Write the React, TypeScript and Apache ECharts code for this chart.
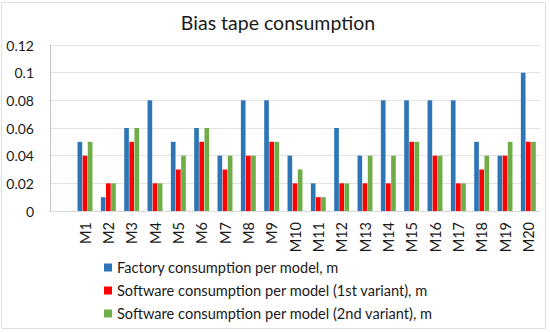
import React, { useEffect, useRef } from "react";
import * as echarts from "echarts";

const models = ["M1","M2","M3","M4","M5","M6","M7","M8","M9","M10","M11","M12","M13","M14","M15","M16","M17","M18","M19","M20"];
const factory = [0.05,0.01,0.06,0.08,0.05,0.06,0.04,0.08,0.08,0.04,0.02,0.06,0.04,0.08,0.08,0.08,0.08,0.05,0.04,0.10];
const software1 = [0.04,0.02,0.05,0.02,0.03,0.05,0.03,0.04,0.05,0.02,0.01,0.02,0.02,0.02,0.05,0.04,0.02,0.03,0.04,0.05];
const software2 = [0.05,0.02,0.06,0.02,0.04,0.06,0.04,0.04,0.05,0.03,0.01,0.02,0.04,0.04,0.05,0.04,0.02,0.04,0.05,0.05];
const yTicks = [0, 0.02, 0.04, 0.06, 0.08, 0.1, 0.12];
const seriesNames = [
  "Factory consumption per model, m",
  "Software consumption per model (1st variant), m",
  "Software consumption per model (2nd variant), m",
];
const colors = ["#2E75B6", "#FF0000", "#70AD47"];

const FONT = "Lato";

export default function App() {
  const ref = useRef<HTMLDivElement>(null);
  useEffect(() => {
    if (!ref.current) return;
    const chart = echarts.init(ref.current, null, { renderer: "svg" });
    // leading empty category slot, as in the reference
    const cats = ["", ...models];
    const pad = (arr: number[]) => [null, ...arr];
    const allData = [factory, software1, software2];
    chart.setOption({
      animation: false,
      backgroundColor: "#ffffff",
      textStyle: { fontFamily: FONT },
      title: {
        text: "Bias tape consumption",
        left: 273,
        textAlign: "center",
        top: 7,
        textStyle: { fontFamily: FONT, fontSize: 19.5, fontWeight: "normal", color: "#1a1a1a" },
      },
      legend: {
        orient: "vertical",
        left: 104,
        top: 260,
        padding: 0,
        itemWidth: 8,
        itemHeight: 8,
        itemGap: 8,
        icon: "rect",
        textStyle: { fontFamily: FONT, fontSize: 14.6, color: "#1a1a1a", lineHeight: 15 },
        data: seriesNames,
      },
      grid: { left: 50, right: 10, top: 45, bottom: 121, containLabel: false },
      xAxis: {
        type: "category",
        data: cats,
        axisTick: { show: false },
        axisLine: { show: true, lineStyle: { color: "#d9d9d9" } },
        axisLabel: {
          rotate: 90,
          interval: 0,
          margin: 11,
          fontFamily: FONT,
          fontSize: 14.5,
          color: "#1a1a1a",
        },
      },
      yAxis: {
        type: "value",
        min: yTicks[0],
        max: yTicks[yTicks.length - 1],
        interval: 0.02,
        axisLine: { show: true, lineStyle: { color: "#bfbfbf" } },
        axisTick: { show: false },
        splitLine: { lineStyle: { color: "#e3e3e3" } },
        axisLabel: {
          margin: 16,
          fontFamily: FONT,
          fontSize: 14,
          color: "#1a1a1a",
          formatter: (v: number) => String(Math.round(v * 100) / 100),
        },
      },
      graphic: [
        {
          type: "rect",
          shape: { x: 1.5, y: 2.5, width: 544, height: 326 },
          style: { fill: "none", stroke: "#e0e0e0", lineWidth: 1 },
          silent: true,
        },
      ],
      series: allData.map((d, i) => ({
        name: seriesNames[i],
        type: "bar",
        data: pad(d),
        barWidth: "20%",
        barGap: "10%",
        itemStyle: { color: colors[i] },
      })),
    });
    return () => chart.dispose();
  }, []);
  return (
    <div
      ref={ref}
      style={{ position: "absolute", left: 0, top: 0, width: 550, height: 332 }}
    />
  );
}
